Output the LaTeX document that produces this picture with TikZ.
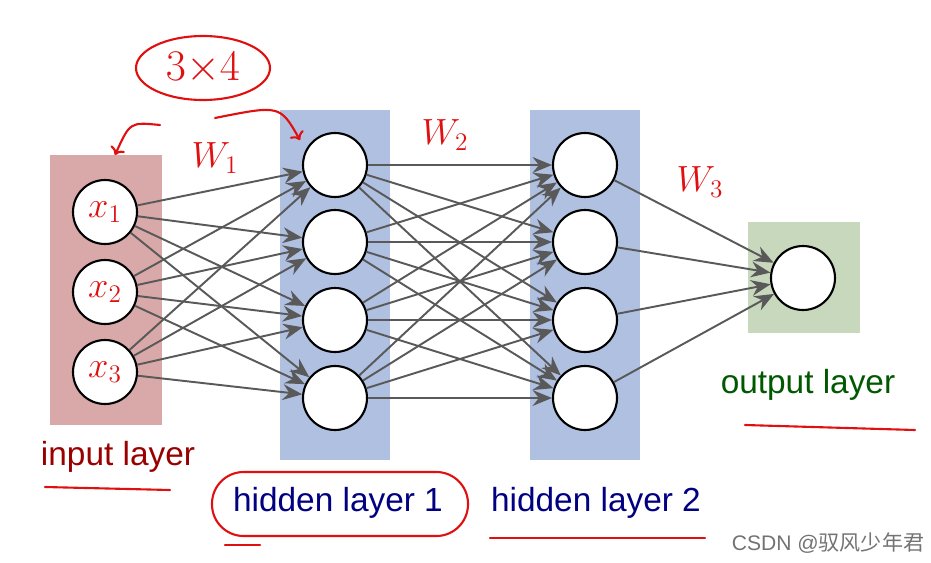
\documentclass[tikz,border=0pt]{standalone}
\usepackage{fontspec}
\setmainfont{Liberation Sans}
\newfontfamily\cjk{Noto Sans CJK SC}
\usetikzlibrary{arrows.meta}
\definecolor{inred}{HTML}{D9A9A9}
\definecolor{hidblue}{HTML}{AFC0E0}
\definecolor{outgreen}{HTML}{C8D8BC}
\definecolor{pen}{HTML}{E01010}
\newcommand{\unitpx}{0.5691pt}
\tikzset{
  neuron/.style={circle, draw=black, line width=1.2pt, fill=white, minimum size=64*\unitpx, inner sep=0pt},
  link/.style={draw=black!65, line width=1.1pt, -{Stealth[length=11pt,width=9pt]}},
  layer/.style={font=\fontsize{19}{22}\selectfont},
  hand/.style={pen, font=\fontsize{22}{24}\selectfont\itshape},
  ink/.style={pen, line width=1.2pt, line cap=round},
}
\begin{document}
\begin{tikzpicture}[x=0.02cm, y=-0.02cm]
        \useasboundingbox (0,0) rectangle (931,562);
        % Draw the layer backgrounds
        \fill[inred] (50,155) rectangle (162,425);
        \fill[hidblue] (280,110) rectangle (390,460);
        \fill[hidblue] (530,110) rectangle (640,460);
        \fill[outgreen] (748,222) rectangle (860,333);

        % Draw the neurons
        \foreach \k/\y in {1/212, 2/292, 3/372}
            \node[neuron] (i\k) at (105,\y) {};
        \foreach \k/\y in {1/165, 2/242, 3/320, 4/398} {
            \node[neuron] (h\k) at (335,\y) {};
            \node[neuron] (g\k) at (585,\y) {};
        }
        \node[neuron] (o) at (803,278) {};

        % Draw the connections
        \foreach \a in {1,2,3}
            \foreach \b in {1,2,3,4}
                \draw[link] (i\a) -- (h\b);
        \foreach \a in {1,2,3,4} {
            \foreach \b in {1,2,3,4}
                \draw[link] (h\a) -- (g\b);
            \draw[link] (g\a) -- (o);
        }

        % Label the layers
        \node[layer, text=red!60!black] (lin) at (118,457) {input layer};
        \node[layer, text=blue!50!black] (lh1) at (338,503) {hidden layer 1};
        \node[layer, text=blue!50!black] (lh2) at (596,503) {hidden layer 2};
        \node[layer, text=green!35!black] (lout) at (808,385) {output layer};

        % Handwritten notes
        \foreach \k in {1,2,3}
            \node[hand] at (i\k) {$x_{\k}$};
        \node[hand] (w1) at (215,158) {$W_1$};
        \node[hand] (w2) at (445,135) {$W_2$};
        \node[hand] (w3) at (700,182) {$W_3$};
        \node[hand, font=\fontsize{28}{30}\selectfont] (dim) at (203,68) {$3{\times}4$};
        \draw[ink] (dim) ellipse [x radius=67*\unitpx, y radius=32*\unitpx];
        \draw[ink, ->] (160,125) .. controls (130,122) .. (115,155);
        \draw[ink, ->] (215,118) .. controls (280,105) .. (300,140);
        \draw[ink] (45,487) -- (170,490);
        \draw[ink, rounded corners=18pt] (212,472) rectangle (468,536);
        \draw[ink] (225,545) -- (260,545);
        \draw[ink] (490,538) -- (705,538);
        \draw[ink] (745,425) -- (915,430);

        % Watermark
        \node[text=black!55, font=\fontsize{12}{14}\selectfont] (mark) at (828,543) {CSDN @{\cjk 驭风少年君}};
\end{tikzpicture}
\end{document}
